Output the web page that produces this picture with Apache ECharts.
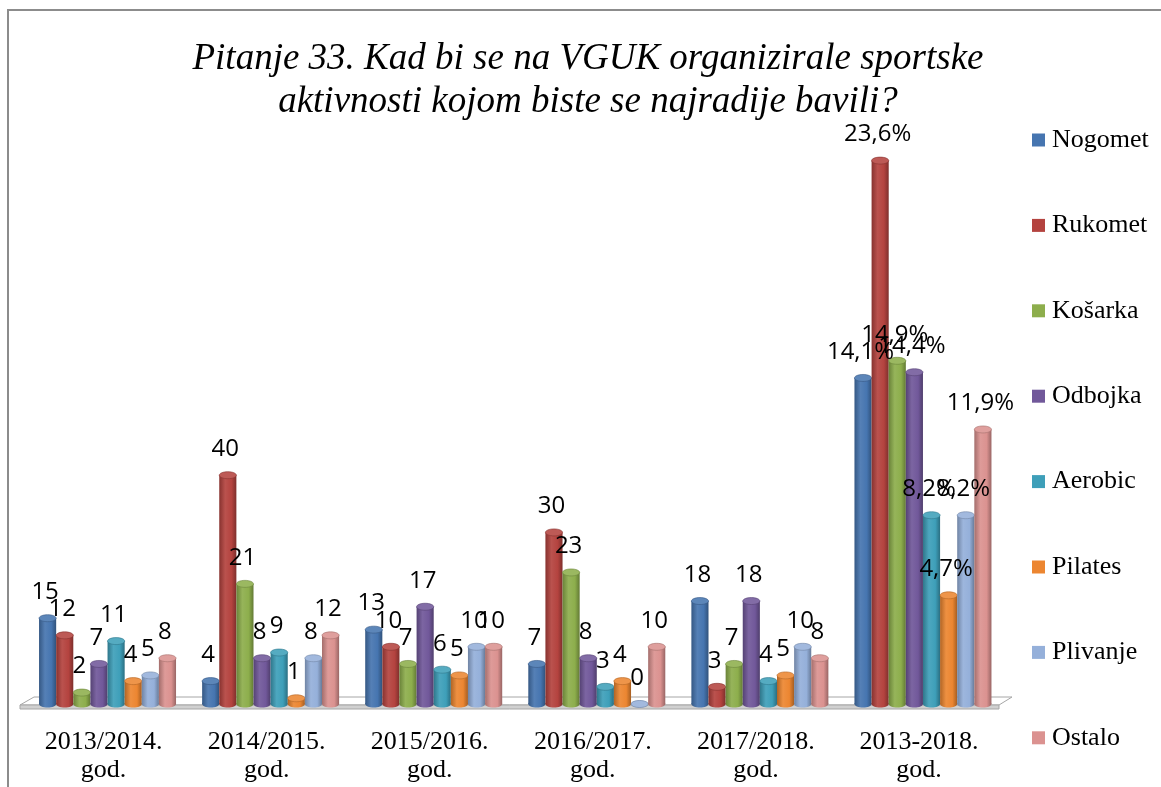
<!DOCTYPE html>
<html>
<head>
<meta charset="utf-8">
<script src="https://cdn.jsdelivr.net/npm/echarts@6/dist/echarts.min.js"></script>
<style>
  html, body { margin: 0; padding: 0; background: #fff; }
  #main { width: 1161px; height: 787px; }
</style>
</head>
<body>
<div id="main"></div>
<script>
// data
const categories = ['2013/2014.\ngod.', '2014/2015.\ngod.', '2015/2016.\ngod.', '2016/2017.\ngod.', '2017/2018.\ngod.', '2013-2018.\ngod.'];
const seriesNames = ['Nogomet', 'Rukomet', 'Košarka', 'Odbojka', 'Aerobic', 'Pilates', 'Plivanje', 'Ostalo'];
const nogomet = [15, 4, 13, 7, 18, 57];
const rukomet = [12, 40, 10, 30, 3, 95];
const kosarka = [2, 21, 7, 23, 7, 60];
const odbojka = [7, 8, 17, 8, 18, 58];
const aerobic = [11, 9, 6, 3, 4, 33];
const pilates = [4, 1, 5, 4, 5, 19];
const plivanje = [5, 8, 10, 0, 10, 33];
const ostalo = [8, 12, 10, 10, 8, 48];
// labels shown on the last group
const totalPercent = ['14,1%', '23,6%', '14,9%', '14,4%', '8,2%', '4,7%', '8,2%', '11,9%'];

const allValues = [nogomet, rukomet, kosarka, odbojka, aerobic, pilates, plivanje, ostalo];
const colors = ['#4675b0', '#b4433f', '#8dae4c', '#71589a', '#3e9fb9', '#ec8631', '#95b0da', '#db9290'];

function shade(hex, p) {
  const n = parseInt(hex.slice(1), 16);
  let r = n >> 16, g = (n >> 8) & 255, b = n & 255;
  const f = (c) => Math.round(p < 0 ? c * (1 + p) : c + (255 - c) * p);
  return 'rgb(' + f(r) + ',' + f(g) + ',' + f(b) + ')';
}

function grad(c) {
  return new echarts.graphic.LinearGradient(0, 0, 1, 0, [
    { offset: 0, color: shade(c, -0.25) },
    { offset: 0.35, color: shade(c, 0.08) },
    { offset: 0.72, color: c },
    { offset: 1, color: shade(c, -0.3) }
  ]);
}

function makeRender(si) {
  return function (params, api) {
    const cat = api.value(0);
    const val = api.value(1);
    const band = api.size([1, 0])[0];
    const w = band * 0.105;
    const c0 = api.coord([cat, 0]);
    const c1 = api.coord([cat, val]);
    const cx = c0[0] + (si - 3.5) * w;
    const ry = 3.5;
    const color = colors[si];
    const text = cat === categories.length - 1 ? totalPercent[si] : String(val);
    return {
      type: 'group',
      children: [
        { type: 'ellipse', shape: { cx: cx, cy: c0[1], rx: w / 2, ry: ry }, style: { fill: grad(color) } },
        { type: 'rect', shape: { x: cx - w / 2, y: c1[1], width: w, height: c0[1] - c1[1] }, style: { fill: grad(color) } },
        { type: 'ellipse', shape: { cx: cx, cy: c1[1], rx: w / 2, ry: ry }, style: { fill: shade(color, 0.12), stroke: shade(color, -0.25), lineWidth: 0.6 } },
        {
          type: 'text', x: cx - 2.5, y: c1[1] - 26, z2: 100,
          style: { text: text, font: '24px "Open Sans"', fill: '#000', align: 'center', verticalAlign: 'middle' }
        }
      ]
    };
  };
}

const chart = echarts.init(document.getElementById('main'));

const series = seriesNames.map((name, si) => ({
  name: name,
  type: 'custom',
  renderItem: makeRender(si),
  itemStyle: { color: colors[si] },
  encode: { x: 0, y: 1 },
  data: allValues[si].map((v, i) => [i, v])
}));

const option = {
  animation: false,
  title: {
    text: 'Pitanje 33. Kad bi se na VGUK organizirale sportske\naktivnosti kojom biste se najradije bavili?',
    left: 588,
    textAlign: 'center',
    top: 38,
    padding: 0,
    textStyle: {
      fontFamily: 'Liberation Serif',
      fontStyle: 'italic',
      fontWeight: 'normal',
      fontSize: 37,
      lineHeight: 43,
      color: '#000'
    }
  },
  legend: {
    orient: 'vertical',
    left: 1032,
    top: 127,
    padding: 0,
    itemWidth: 13,
    itemHeight: 13,
    itemGap: 59.4,
    icon: 'rect',
    data: seriesNames,
    textStyle: { fontFamily: 'Liberation Serif', fontSize: 26, lineHeight: 26, color: '#000', padding: [0, 0, 0, 2] }
  },
  grid: { left: 26, right: 156.5, top: 132, bottom: 83 },
  xAxis: {
    type: 'category',
    data: categories,
    axisLine: { show: false },
    axisTick: { show: false },
    axisLabel: {
      margin: 24,
      fontFamily: 'Liberation Serif',
      fontSize: 26,
      lineHeight: 28,
      color: '#000',
      padding: [0, 8, 0, 0],
      interval: 0
    }
  },
  yAxis: { type: 'value', min: 0, max: 100, show: false, splitLine: { show: false } },
  graphic: [
    { type: 'rect', silent: true, shape: { x: 8, y: 10, width: 1200, height: 800 }, style: { fill: 'none', stroke: '#8c8c8c', lineWidth: 2 } },
    { type: 'polygon', silent: true, z: 0, shape: { points: [[34, 697], [1012, 697], [999, 705], [20, 705]] }, style: { fill: '#ffffff', stroke: '#a6a6a6', lineWidth: 1 } },
    { type: 'polygon', silent: true, z: 0, shape: { points: [[20, 705], [999, 705], [999, 709], [20, 709]] }, style: { fill: '#d0d0d0', stroke: '#a6a6a6', lineWidth: 1 } }
  ],
  series: series
};

chart.setOption(option);
</script>
</body>
</html>
